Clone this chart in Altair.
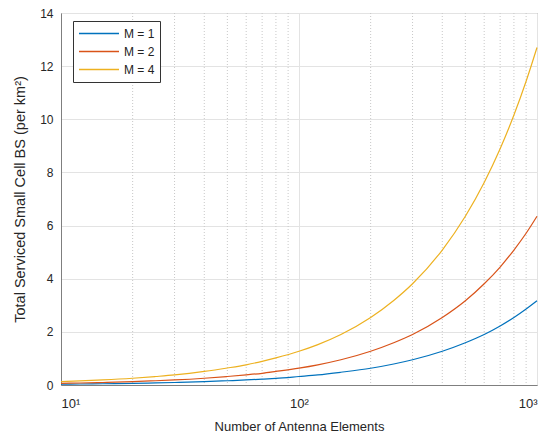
import altair as alt
import pandas as pd

N = [10, 12, 15, 20, 25, 30, 40, 50, 60, 70, 80, 100, 120, 150, 200, 250, 300, 400, 500, 600, 700, 800, 900, 1000]
m1 = [0.032, 0.038, 0.048, 0.063, 0.079, 0.095, 0.127, 0.16, 0.19, 0.22, 0.25, 0.32, 0.38, 0.48, 0.63, 0.79, 0.95, 1.27, 1.59, 1.9, 2.22, 2.54, 2.86, 3.17]
m2 = [0.064, 0.076, 0.095, 0.127, 0.16, 0.19, 0.254, 0.32, 0.38, 0.44, 0.51, 0.635, 0.76, 0.95, 1.27, 1.59, 1.9, 2.54, 3.17, 3.81, 4.44, 5.08, 5.71, 6.35]
m4 = [0.127, 0.152, 0.19, 0.254, 0.32, 0.38, 0.51, 0.64, 0.76, 0.89, 1.02, 1.27, 1.52, 1.9, 2.54, 3.18, 3.81, 5.08, 6.35, 7.62, 8.89, 10.16, 11.43, 12.7]
series = ["M = 1", "M = 2", "M = 4"]
colors = ["#0072BD", "#D95319", "#EDB120"]
minor = [20, 30, 40, 50, 60, 70, 80, 90, 200, 300, 400, 500, 600, 700, 800, 900]

rows = []
for name, vals in zip(series, [m1, m2, m4]):
    for n, v in zip(N, vals):
        rows.append({"N": n, "y": v, "series": name})
df = pd.DataFrame(rows)
df_minor = pd.DataFrame({"x": minor})

font = "Liberation Sans"
xscale = alt.Scale(type="log", domain=[10, 1000], nice=False)
yscale = alt.Scale(domain=[0, 14], nice=False)

minor_grid = alt.Chart(df_minor).mark_rule(
    color="#c8c8c8", strokeDash=[1, 2], strokeWidth=1
).encode(x=alt.X("x:Q", scale=xscale))

lines = alt.Chart(df).mark_line(strokeWidth=1.2, interpolate="monotone").encode(
    x=alt.X("N:Q", scale=xscale, title="Number of Antenna Elements",
            axis=alt.Axis(values=[10, 100, 1000],
                          labelExpr="datum.value == 10 ? '10¹' : datum.value == 100 ? '10²' : '10³'",
                          grid=True, gridColor="#e3e3e3", ticks=False, labelPadding=12,
                          labelFontSize=13, titlePadding=10)),
    y=alt.Y("y:Q", scale=yscale, title="Total Serviced Small Cell BS (per km²)",
            axis=alt.Axis(values=[0, 2, 4, 6, 8, 10, 12, 14], grid=True, gridColor="#e3e3e3",
                          ticks=False, labelPadding=8, titlePadding=12, titleFontSize=14.5)),
    color=alt.Color("series:N", scale=alt.Scale(domain=series, range=colors),
                    legend=alt.Legend(title=None, orient="none", legendX=12, legendY=8,
                                      symbolType="stroke", symbolSize=1600, symbolStrokeWidth=1.5,
                                      labelFontSize=12, labelFont=font, strokeColor="#333333",
                                      fillColor="white", padding=5, rowPadding=3, clipHeight=15,
                                      labelColor="#222222", labelOffset=4)),
)

chart = alt.layer(minor_grid, lines).properties(
    width=476, height=372,
    autosize=alt.AutoSizeParams(type="none"),
    padding={"left": 53, "top": 5, "right": 2, "bottom": 50},
).configure_view(stroke="#7f7f7f", strokeWidth=1).configure_axis(
    domainColor="#7f7f7f", labelFont=font, titleFont=font, labelFontSize=12,
    titleFontSize=13, titleFontWeight="normal", labelColor="#262626", titleColor="#262626"
)

chart.save("out.html", embed_options={"renderer": "svg", "actions": False})
